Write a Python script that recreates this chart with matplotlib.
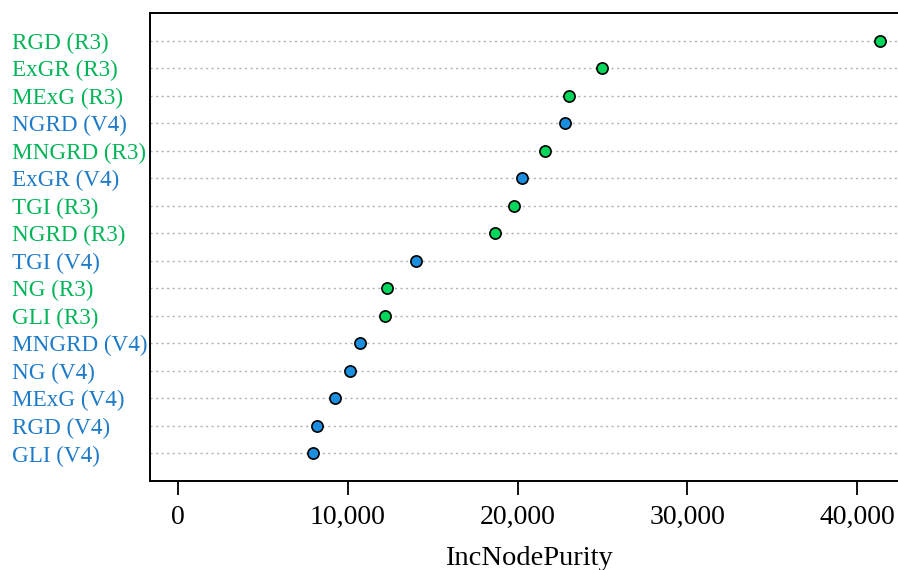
import matplotlib.pyplot as plt
from matplotlib.ticker import FuncFormatter

# variables, bottom to top as drawn
labels = ['GLI (V4)', 'RGD (V4)', 'MExG (V4)', 'NG (V4)', 'MNGRD (V4)',
          'GLI (R3)', 'NG (R3)', 'TGI (V4)', 'NGRD (R3)', 'TGI (R3)',
          'ExGR (V4)', 'MNGRD (R3)', 'NGRD (V4)', 'MExG (R3)', 'ExGR (R3)',
          'RGD (R3)']
values = [7940, 8180, 9240, 10120, 10710,
          12180, 12290, 14000, 18650, 19820,
          20240, 21590, 22770, 23060, 25000,
          41350]
sensor = ['V4', 'V4', 'V4', 'V4', 'V4',
          'R3', 'R3', 'V4', 'R3', 'R3',
          'V4', 'R3', 'V4', 'R3', 'R3',
          'R3']

text_col = {'R3': '#00b457', 'V4': '#1f7bc8'}
dot_col = {'R3': '#00d65c', 'V4': '#1a8fe0'}

plt.rcParams['font.family'] = ['Liberation Serif', 'DejaVu Serif']

fig = plt.figure(figsize=(8.98, 5.70), dpi=100)
ax = fig.add_axes([150 / 898, 1 - 481 / 570, 758 / 898, 468 / 570])

ypos = list(range(1, len(labels) + 1))
for y in ypos:
    ax.axhline(y, color='#b0b0b0', lw=1, ls=(0, (1.5, 2.5)), zorder=1)

for y, v, s in zip(ypos, values, sensor):
    ax.scatter(v, y, s=65, color=dot_col[s], edgecolor='black', lw=1.2, zorder=3)

ax.set_ylim(0, len(labels) + 1)
ax.set_xlim(-1654, 43007)
ax.set_yticks(ypos)
ax.set_yticklabels(labels, fontsize=16.7)
for t, s in zip(ax.get_yticklabels(), sensor):
    t.set_color(text_col[s])
    t.set_horizontalalignment('left')
ax.tick_params(axis='y', length=0, pad=138 * 0.72)

ax.set_xticks([0, 10000, 20000, 30000, 40000])
ax.xaxis.set_major_formatter(FuncFormatter(lambda x, p: f'{int(x):,}'))
ax.tick_params(axis='x', labelsize=20, length=10, width=1.3, pad=7.5)
ax.set_xlabel('IncNodePurity', fontsize=20.5, labelpad=11.5)

for side in ['left', 'top', 'bottom', 'right']:
    ax.spines[side].set_linewidth(1.4)

fig.savefig('out.png', dpi=100)
